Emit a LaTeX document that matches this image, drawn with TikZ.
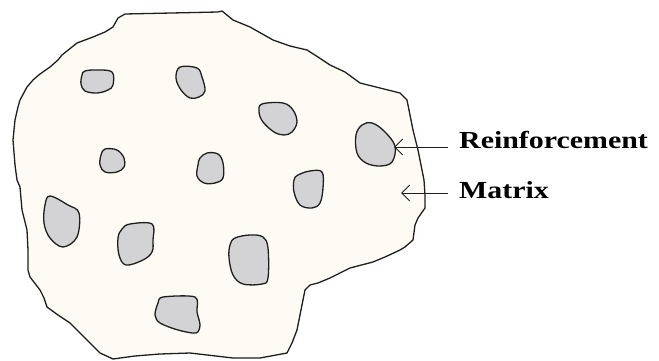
\documentclass[tikz,border=0pt]{standalone}
\usepackage{fontspec}
\setmainfont{Liberation Serif}
\usetikzlibrary{arrows.meta}
\definecolor{matrixfill}{HTML}{FDFBF4}
\definecolor{partfill}{HTML}{D3D3D5}
\definecolor{ink}{HTML}{1E1E1E}
\tikzset{
  outline/.style={draw=ink, line width=1.3pt, line join=round, fill=matrixfill},
  particle/.style={draw=ink, line width=1.3pt, fill=partfill},
  pointer/.style={draw=ink, line width=0.9pt, -{Straight Barb[length=8pt,width=16pt,line width=0.9pt]}},
  lbl/.style={anchor=base west, inner sep=0pt, font=\fontsize{24.5}{28}\selectfont\bfseries}
}
\begin{document}
\begin{tikzpicture}[x=1pt,y=-1pt]
\useasboundingbox (0,0) rectangle (659,361);
% matrix body
\draw[outline] (125,14) -- (218,12) -- (222,11) -- (233,20) -- (250,27) -- (273,40) -- (290,46) -- (307,50) -- (318,57) -- (330,65) -- (345,72) -- (360,83) -- (380,88) -- (400,93) -- (407,100) -- (410,115) -- (413,130) -- (418,150) -- (421,165) -- (424,180) -- (425,195) -- (425,208) -- (418,218) -- (415,225) -- (413,240) -- (405,247) -- (400,250) -- (385,257) -- (373,262) -- (350,268) -- (330,278) -- (318,283) -- (310,285) -- (305,290) -- (303,300) -- (300,315) -- (297,330) -- (292,343) -- (287,353) -- (260,358) -- (233,358) -- (190,353) -- (160,354) -- (135,356) -- (113,359) -- (100,353) -- (90,343) -- (80,333) -- (70,323) -- (58,315) -- (47,307) -- (44,298) -- (40,290) -- (30,277) -- (28,270) -- (28,250) -- (27,230) -- (22,210) -- (20,187) -- (17,180) -- (15,165) -- (13,140) -- (15,120) -- (18,107) -- (20,100) -- (27,87) -- (33,80) -- (40,74) -- (50,67) -- (58,60) -- (62,55) -- (77,43) -- (93,37) -- (105,32) -- (113,27) -- (118,18) -- cycle;
% particles
\draw[particle] plot[smooth cycle, tension=0.6] coordinates {(85,71) (97,70) (112,72) (113,85) (108,90) (97,93) (85,91) (81,84) (82,75)};
\draw[particle] plot[smooth cycle, tension=0.6] coordinates {(180,67) (197,68) (202,77) (205,91) (199,97) (190,98) (181,90) (176,78)};
\draw[particle] plot[smooth cycle, tension=0.6] coordinates {(262,104) (283,103) (293,110) (297,122) (292,132) (284,135) (274,132) (263,122) (259,112)};
\draw[particle] plot[smooth cycle, tension=0.6] coordinates {(105,149) (117,150) (124,158) (124,167) (117,172) (105,172) (100,165) (101,155)};
\draw[particle] plot[smooth cycle, tension=0.6] coordinates {(200,158) (207,153) (218,154) (223,163) (223,178) (215,183) (204,183) (197,176) (198,165)};
\draw[particle] plot[smooth cycle, tension=0.6] coordinates {(362,125) (372,123) (384,131) (395,146) (392,162) (380,166) (366,163) (357,153) (356,135)};
\draw[particle] plot[smooth cycle, tension=0.6] coordinates {(298,175) (310,171) (322,172) (323,188) (320,203) (312,208) (300,205) (294,192) (294,180)};
\draw[particle] plot[smooth cycle, tension=0.6] coordinates {(50,196) (68,205) (79,213) (77,237) (63,247) (50,238) (44,223) (45,205)};
\draw[particle] plot[smooth cycle, tension=0.6] coordinates {(122,229) (130,224) (152,224) (153,240) (152,252) (143,260) (126,265) (119,255) (118,238)};
\draw[particle] plot[smooth cycle, tension=0.6] coordinates {(235,238) (250,235) (263,237) (268,248) (268,278) (262,284) (243,284) (233,275) (229,258) (230,245)};
\draw[particle] plot[smooth cycle, tension=0.5] coordinates {(163,297) (195,297) (197,312) (200,325) (196,333) (178,330) (160,323) (155,315) (158,303)};
% labels
\node[lbl] (reinf) at (459,148) {\scalebox{1.22}[1]{Reinforcement}};
\node[lbl] (matr) at (459,198) {\scalebox{1.22}[1]{Matrix}};
\coordinate (rtip) at (394,147);
\coordinate (mtip) at (401,193);
\draw[pointer] (reinf.west |- rtip) ++(-11,0) -- (rtip);
\draw[pointer] (matr.west |- mtip) ++(-11,0) -- (mtip);
\end{tikzpicture}
\end{document}
